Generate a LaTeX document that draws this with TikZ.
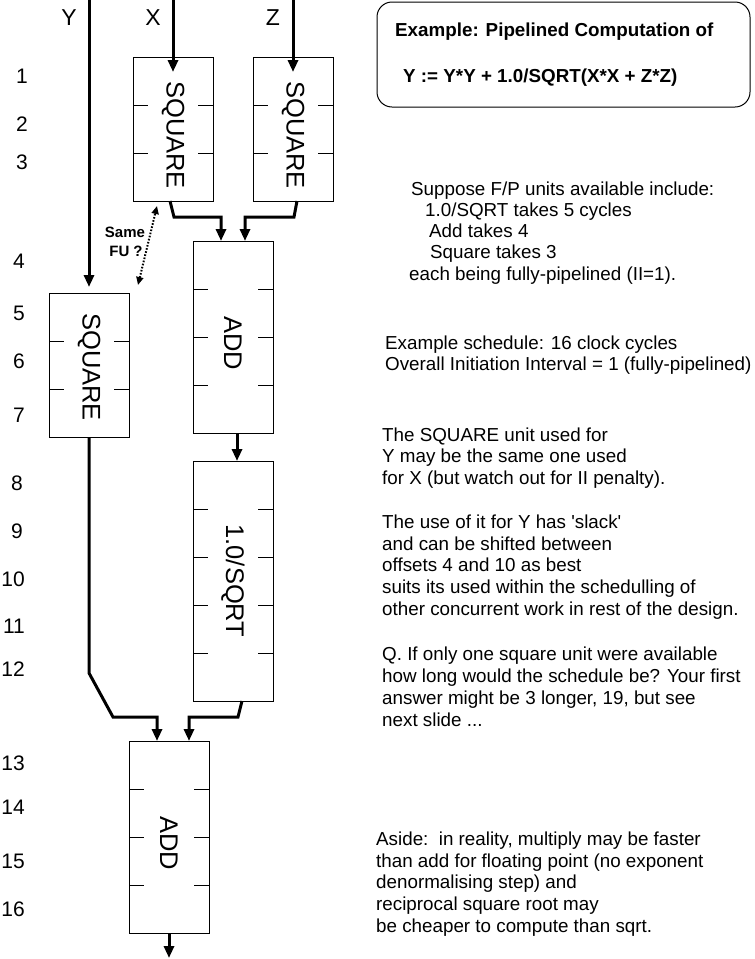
\documentclass[tikz,border=0pt]{standalone}
\usepackage{fontspec}
\setmainfont{Liberation Sans}
\usetikzlibrary{arrows.meta,calc}
\begin{document}
\begin{tikzpicture}[x=1pt,y=-1pt,
  stage/.style={draw, line width=1pt, minimum width=80pt, inner sep=0pt, outer sep=0pt},
  flow/.style={line width=3pt, -{Triangle[length=12pt,width=10pt]}},
  dotarrow/.style={line width=2pt, dash pattern=on 1.6pt off 1.6pt,
    {Triangle[length=8pt,width=7pt]}-{Triangle[length=8pt,width=7pt]}},
  tick/.style={line width=1pt},
  lbl/.style={rotate=-90, font=\fontsize{25.5}{26}\selectfont, inner sep=0pt},
  num/.style={font=\fontsize{21}{21}\selectfont, anchor=base east, inner sep=0pt},
  var/.style={font=\fontsize{23}{23}\selectfont, anchor=base, inner sep=0pt},
  txt/.style={font=\fontsize{18.8}{21.75}\selectfont, anchor=base west, inner sep=0pt},
  ttl/.style={font=\fontsize{18.8}{21.75}\selectfont\bfseries, anchor=base west, inner sep=0pt},
  fu/.style={font=\fontsize{15}{15}\selectfont\bfseries, anchor=base, inner sep=0pt}]
\useasboundingbox (0,0) rectangle (755,959);

% pipeline stage boxes
\node[stage, minimum height=144pt] (sqx) at (173,129) {};
\node[stage, minimum height=144pt] (sqz) at (293,129) {};
\node[stage, minimum height=144pt] (sqy) at (89,365) {};
\node[stage, minimum height=192pt] (add1) at (233,337) {};
\node[stage, minimum height=240pt] (sqrt) at (233,581) {};
\node[stage, minimum height=192pt] (add2) at (169,837) {};

% stage ticks
\foreach \b/\i in {sqx/1,sqx/2,sqz/1,sqz/2,sqy/1,sqy/2,add1/1,add1/2,add1/3,
                   sqrt/1,sqrt/2,sqrt/3,sqrt/4,add2/1,add2/2,add2/3}{
  \draw[tick] ($(\b.north west)+(0,48*\i)$) -- ++(15,0);
  \draw[tick] ($(\b.north east)+(0,48*\i)$) -- ++(-15,0);
}

% box labels
\node[lbl] (sqxl) at (173,135) {SQUARE};
\node[lbl] (sqzl) at (293,135) {SQUARE};
\node[lbl] (sqyl) at (89,367) {SQUARE};
\node[lbl] (add1l) at (233,343) {ADD};
\node[lbl] (sqrtl) at (233,581) {1.0/SQRT};
\node[lbl] (add2l) at (169,843) {ADD};

% inputs / output
\node[var] (ylab) at (69,25) {Y};
\node[var] (xlab) at (153,25) {X};
\node[var] (zlab) at (273,25) {Z};
\coordinate (yin) at (89,0);
\coordinate (xin) at (173,0);
\coordinate (zin) at (293,0);
\coordinate (out) at (169,958);

% connectors
\draw[flow] (xin) -- ($(sqx.north)+(0,15)$);
\draw[flow] (zin) -- ($(sqz.north)+(0,15)$);
\draw[flow] (yin) -- ($(sqy.north)+(0,-6)$);
\draw[flow] ($(sqx.south)+(-3,0)$) -- ++(4,16) -| ($(add1.north)+(-12,0)$);
\draw[flow] ($(sqz.south)+(4,0)$) -- ++(-3,16) -| ($(add1.north)+(12,0)$);
\draw[flow] ($(add1.south)+(4,0)$) -- ($(sqrt.north)+(4,0)$);
\draw[flow] (sqy.south) -- ++(0,236) -- ++(24,44) -| ($(add2.north)+(-12,0)$);
\draw[flow] ($(sqrt.south)+(9,0)$) -- ++(-4,16) -| ($(add2.north)+(20,0)$);
\draw[flow] (add2.south) -- (out);

% same FU
\draw[dotarrow] ($(sqy.north east)+(9,-8)$) -- ($(sqx.south west)+(24,5)$);
\node[fu] (same) at (125,237.5) {Same};
\node[fu] (fuq) at (126,256.5) {FU ?};

% row numbers
\foreach \n/\x/\y in {1/28/83,2/28/131,3/28/169,4/25/268,5/25/320,6/25/368,7/25/422,
  8/23/490,9/23/538,10/25/586,11/25/633,12/25/676,13/25/770,14/25/814,15/25/868,16/25/916}{
  \node[num] (n\n) at (\x,\y) {\n};
}

% title
\node[draw, line width=1pt, rounded corners=15pt, minimum width=373pt, minimum height=105pt,
  inner sep=0pt] (title) at (563.5,54.5) {};
\node[ttl] (t1) at (395,36) {Example: Pipelined Computation of};
\node[ttl] (t2) at (403,82) {Y := Y*Y + 1.0/SQRT(X*X + Z*Z)};

% explanatory text
\foreach \x/\y/\s [count=\k] in {
  411/195/{Suppose F/P units available include:},
  425/216/{1.0/SQRT takes 5 cycles},
  429/237/{Add takes 4},
  430/258/{Square takes 3},
  409/280/{each being fully-pipelined (II=1).},
  385/349/{Example schedule: 16 clock cycles},
  385/370/{Overall Initiation Interval = 1 (fully-pipelined)},
  382/441/{The SQUARE unit used for},
  382/462/{Y may be the same one used},
  382/484/{for X (but watch out for II penalty).},
  382/528/{The use of it for Y has \textquotesingle slack\textquotesingle},
  382/550/{and can be shifted between},
  382/571/{offsets 4 and 10 as best},
  382/593/{suits its used within the schedulling of},
  382/615/{other concurrent work in rest of the design.},
  382/660/{Q. If only one square unit were available},
  382/682/{how long would the schedule be? Your first},
  382/704/{answer might be 3 longer, 19, but see},
  382/726/{next slide ...},
  376/845/{Aside:\ \ in reality, multiply may be faster},
  376/867/{than add for floating point (no exponent},
  376/888/{denormalising step) and},
  376/910/{reciprocal square root may},
  376/932/{be cheaper to compute than sqrt.}}{
  \node[txt] (p\k) at (\x,\y) {\s};
}
\end{tikzpicture}
\end{document}
